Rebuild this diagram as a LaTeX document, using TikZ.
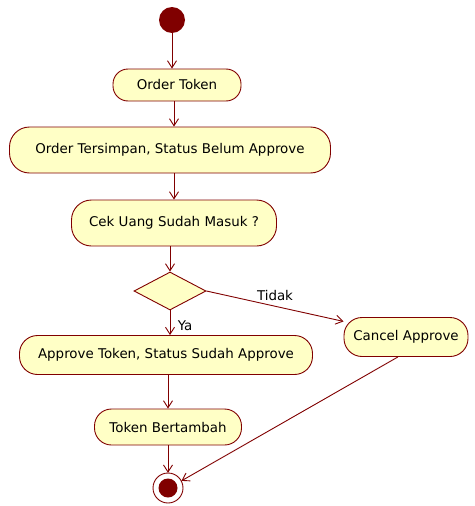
\documentclass[tikz,border=0pt]{standalone}
\usepackage{fontspec}
\setmainfont{DejaVu Sans}
\usetikzlibrary{arrows.meta,shapes.geometric}
\definecolor{umlred}{HTML}{800000}
\definecolor{umlfill}{HTML}{FFFFC6}
\newcommand{\umlfont}{\fontsize{13.4}{15}\selectfont}
\tikzset{
  act/.style={draw=umlred, fill=umlfill, line width=0.9pt, rounded corners=15pt, minimum height=#1, inner xsep=8pt, font=\umlfont},
  act/.default=32pt,
  flow/.style={draw=umlred, line width=0.9pt, -{Straight Barb[length=7pt,width=9pt]}},
}
\begin{document}
\begin{tikzpicture}[x=1pt, y=-1pt]
    \useasboundingbox (0,0) rectangle (474,506);

    % Awal
    \fill[umlred] (172,20) circle (13);
    \node[minimum size=26pt, inner sep=0pt] (mulai) at (172,20) {};

    % Aktivitas
    \node[act, minimum width=128pt] (order) at (177,85) {Order Token};
    \node[act=46pt, minimum width=321pt, rounded corners=20pt] (simpan) at (170,150) {Order Tersimpan, Status Belum Approve};
    \node[act=46pt, minimum width=205pt, rounded corners=20pt] (cek) at (174,223) {Cek Uang Sudah Masuk ?};
    \node[draw=umlred, fill=umlfill, line width=0.9pt, diamond, aspect=1.9, minimum width=72pt, minimum height=38pt, inner sep=0pt] (pilih) at (170,291) {};
    \node[act=39pt, minimum width=293pt, rounded corners=18pt] (approve) at (166,355) {Approve Token, Status Sudah Approve};
    \node[act=39pt, minimum width=124pt, rounded corners=18pt] (cancel) at (406,337) {Cancel Approve};
    \node[act=36pt, minimum width=147pt, rounded corners=17pt] (tambah) at (168,427) {Token Bertambah};

    % Akhir
    \draw[umlred, line width=0.9pt, fill=white] (168,488) circle (15);
    \fill[umlred] (168,488) circle (9.5);
    \node[minimum size=30pt, inner sep=0pt, circle] (selesai) at (168,488) {};

    % Alur
    \draw[flow] (mulai) -- (mulai |- order.north);
    \draw[flow] (order.south -| 174,0) -- (simpan.north -| 174,0);
    \draw[flow] (simpan.south -| 174,0) -- (cek.north -| 174,0);
    \draw[flow] (cek.south -| pilih.north) -- (pilih.north);
    \draw[flow] (pilih.south) -- (pilih.south |- approve.north) node[pos=0.62, right=4pt, font=\umlfont] {Ya};
    \draw[flow] (pilih.east) -- (cancel.166) node[pos=0.5, above=2pt, font=\umlfont] {Tidak};
    \draw[flow] (approve.south -| tambah.north) -- (tambah.north);
    \draw[flow] (tambah.south) -- (selesai.north);
    \draw[flow] (cancel.-112) -- (selesai.28);
\end{tikzpicture}
\end{document}
